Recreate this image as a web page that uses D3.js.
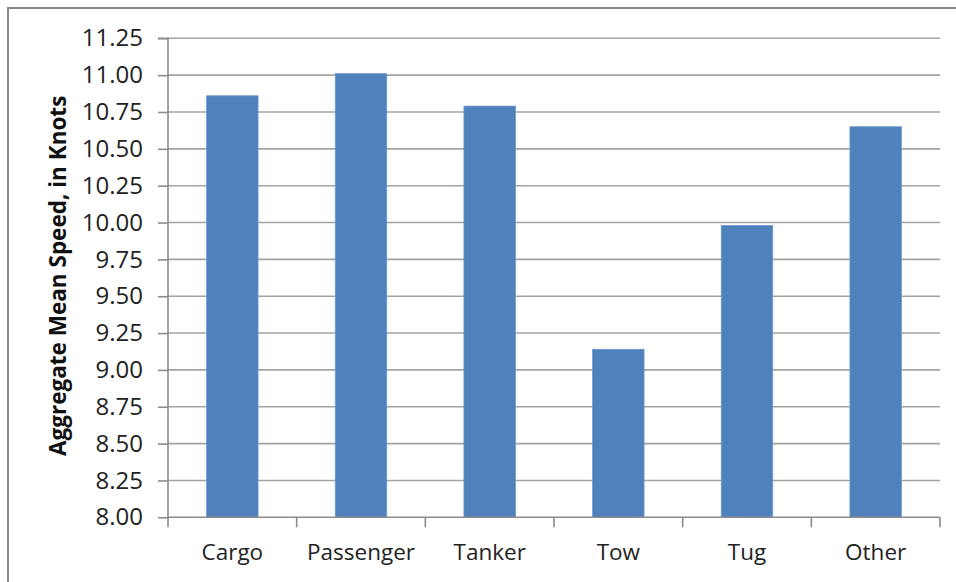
<!DOCTYPE html>
<html><head><meta charset="utf-8">
<script src="https://cdn.jsdelivr.net/npm/d3@7/dist/d3.min.js"></script>
<style>html,body{margin:0;padding:0;background:#fff;overflow:hidden}</style>
</head><body>
<svg id="c" width="956" height="582"></svg>
<script>
const categories = ["Cargo","Passenger","Tanker","Tow","Tug","Other"];
const values = [10.86, 11.01, 10.79, 9.14, 9.98, 10.65];
const yTicks = [8.00,8.25,8.50,8.75,9.00,9.25,9.50,9.75,10.00,10.25,10.50,10.75,11.00,11.25];
const yTitle = "Aggregate Mean Speed, in Knots";

const svg = d3.select("#c");
const L = 168, R = 940, T = 38.3, B = 517.3;
const font = "'Open Sans', sans-serif";

// outer frame
svg.append("rect").attr("x",8).attr("y",8).attr("width",1000).attr("height",1000)
  .attr("fill","none").attr("stroke","#878787").attr("stroke-width",2);

const x = d3.scaleBand().domain(categories).range([L,R]).paddingInner(0.6).paddingOuter(0.3);
const xb = d3.scaleBand().domain(categories).range([L,R]);
const y = d3.scaleLinear().domain([8,11.25]).range([B,T]);

// gridlines
svg.append("g").selectAll("line").data(yTicks.slice(1)).join("line")
  .attr("x1",L).attr("x2",R).attr("y1",d=>y(d)).attr("y2",d=>y(d))
  .attr("stroke","#a3a3a3").attr("stroke-width",1.6);

// bars
svg.append("g").selectAll("rect").data(values).join("rect")
  .attr("x",(d,i)=>x(categories[i]))
  .attr("width",x.bandwidth())
  .attr("y",d=>y(d)).attr("height",d=>B-y(d))
  .attr("fill","#4f81bd").attr("stroke","#6f99cc").attr("stroke-width",0.8);

// y axis
const ya = d3.axisLeft(y).tickValues(yTicks).tickFormat(d3.format(".2f")).tickSize(10).tickPadding(15);
const gy = svg.append("g").attr("transform",`translate(${L},0)`).call(ya);
gy.select(".domain").attr("stroke","#8c8c8c").attr("stroke-width",1.6).attr("d",`M-10,${T}H0V${B}`);
gy.selectAll(".tick line").attr("stroke","#8c8c8c").attr("stroke-width",1.6);
gy.selectAll(".tick text").attr("font-family",font).attr("font-size",24).attr("fill","#222");

// x axis
const xa = d3.axisBottom(xb).tickSize(0).tickPadding(27);
const gx = svg.append("g").attr("transform",`translate(0,${B})`).call(xa);
gx.select(".domain").attr("stroke","#8c8c8c").attr("stroke-width",1.6).attr("d",`M${L},0H${R}`);
gx.selectAll(".tick text").attr("font-family",font).attr("font-size",22.5).attr("fill","#222");
// boundary tick marks
const bounds = categories.map(c=>xb(c)).concat([R]);
svg.append("g").selectAll("line").data(bounds).join("line")
  .attr("x1",d=>d).attr("x2",d=>d).attr("y1",B).attr("y2",B+10)
  .attr("stroke","#8c8c8c").attr("stroke-width",1.6);

// y title
svg.append("text").attr("transform",`translate(66,${(T+B)/2 - 2}) rotate(-90)`)
  .attr("text-anchor","middle").attr("font-family",font).attr("font-weight","bold")
  .attr("font-size",22.5).attr("fill","#111").text(yTitle);
</script>
</body></html>
